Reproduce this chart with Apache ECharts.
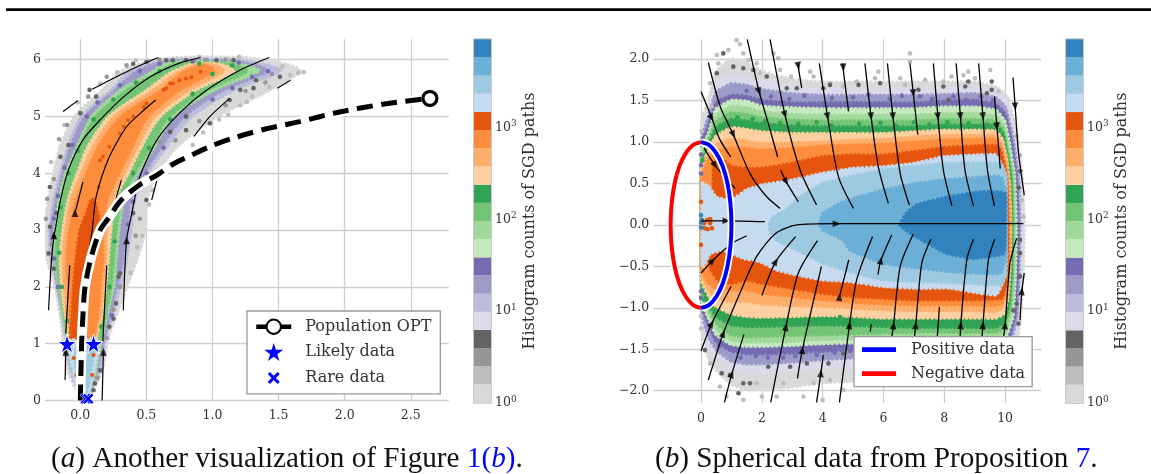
<!DOCTYPE html>
<html><head><meta charset="utf-8">
<style>html,body{margin:0;padding:0;background:#fff}#c{width:1151px;height:474px}</style>
<script src="https://cdn.jsdelivr.net/npm/echarts@6/dist/echarts.min.js"></script>
</head><body><div id="c"></div>
<script>
// ---------- shared palette / colourbar ----------
const cbEdges=[1,1.58,2.49,3.93,6.2,9.78,15.4,24.4,38.4,60.6,95.7,151,238,376,593,936,1477,2331,3678,5804,9160];
const cbColors=['#d9d9d9','#bdbdbd','#969696','#636363','#dadaeb','#bcbddc','#9e9ac8','#756bb1','#c7e9c0','#a1d99b','#74c476','#31a354','#fdd0a2','#fdae6b','#fd8d3c','#e6550d','#c6dbef','#9ecae1','#6baed6','#3182bd'];
const cbTicks=[1,10,100,1000];
const cbTickPowers=['0','1','2','3'];

// ---------- panel (a) ticks ----------
const aXTicks=[0,0.5,1,1.5,2,2.5];
const aXLabels=['0.0','0.5','1.0','1.5','2.0','2.5'];
const aYTicks=[0,1,2,3,4,5,6];
const aYLabels=['0','1','2','3','4','5','6'];

// ---------- panel (a) ribbon contours, read row by row ----------
const aRowL=[0.5,1.1,1.5,2,2.5,3,3.53,4,4.47,5,5.47,5.76,5.91];
const aRowR=[0.5,1.1,1.5,2,2.5,3,3.53,4,4.47,5,5.47,5.8];
const aGrayL=[-.09,-.13,-.15,-.19,-.25,-.27,-.24,-.20,-.15,-.04,.17,.29,.43];
const aGrayR=[.16,.21,.27,.35,.43,.49,.50,.58,.73,1.03,1.43,1.66];
const aGrayTop=[[.7,6.03],[1.25,6.03],[1.55,5.92]];
const aPurpleOutL=[-.07,-.11,-.14,-.17,-.22,-.23,-.20,-.15,-.09,.01,.24,.36,.50];
const aPurpleOutR=[.14,.19,.24,.30,.35,.38,.41,.51,.65,.84,1.16,1.51];
const aPurpleOutTop=[[.7,6.0],[1.2,5.99],[1.42,5.9]];
const aPurpleInL=[-.05,-.10,-.13,-.17,-.20,-.22,-.18,-.13,-.07,.04,.27,.41,.55];
const aPurpleInR=[.12,.18,.22,.27,.32,.35,.38,.48,.61,.78,1.08,1.41];
const aPurpleInTop=[[.72,5.98],[1.15,5.97],[1.35,5.88]];
const aGreenOutL=[-.05,-.10,-.13,-.16,-.19,-.19,-.16,-.11,-.02,.09,.31,.53,.63];
const aGreenOutR=[.11,.16,.20,.25,.27,.29,.33,.43,.56,.70,1.01,1.35];
const aGreenOutTop=[[.75,5.96],[1.1,5.95],[1.28,5.88]];
const aGreenDeepL=[-.05,-.09,-.12,-.15,-.18,-.17,-.14,-.08,0,.12,.36,.58,.70];
const aGreenDeepR=[.09,.15,.19,.23,.25,.27,.31,.41,.53,.67,.96,1.26];
const aGreenDeepTop=[[.8,5.95],[1.08,5.94],[1.2,5.87]];
const aOrangePaleL=[-.04,-.08,-.11,-.14,-.15,-.13,-.09,-.02,.06,.22,.51,.68,.83];
const aOrangePaleR=[.08,.12,.16,.19,.21,.23,.26,.36,.46,.60,.87,1.16];
const aOrangePaleTop=[[.88,5.93],[1.05,5.92]];
const aOrangeMidL=[-.04,-.07,-.10,-.12,-.13,-.11,-.07,.01,.10,.26,.56,.73,.88];
const aOrangeMidR=[.07,.11,.15,.17,.19,.20,.24,.33,.43,.56,.82,1.08];
const aOrangeMidTop=[[.93,5.91],[1.02,5.9]];
const aOrangeDeepL=[-.04,-.07,-.08,-.09,-.10,-.08,-.03,.05,.14,.31,.62,.77,.93];
const aOrangeDeepR=[.05,.10,.13,.15,.17,.17,.20,.29,.39,.51,.75,1.01];
const aOrangeDeepTop=[[.95,5.88],[.98,5.87]];
const aCore=[[-.07,1.12],[-.06,1.5],[-.05,2],[-.03,2.5],[0,3],[.05,3.3],[.09,3.55],[.12,3.4],[.15,3],[.1,2.5],[.06,2],[.02,1.5],[-.02,1.12]];
const aTipPale=[[-.08,1.05],[-.05,.5],[0,.1],[.05,.05],[.07,.2],[.1,.5],[.14,1.0],[.12,1.08],[0,1.05]];
const aTipBlue=[[-.03,.9],[-.02,.4],[.03,.1],[.06,.3],[.09,.7],[.1,.95]];

// ---------- panel (a) individual hex cells ----------
const aCellsLight=[[1.5,5.82],[1.59,5.73],[1.65,5.77],[1.69,5.78],[1.43,5.52],[1.3,5.35],[1.26,5.26],[1.21,5.2],[1.53,5.88],[.52,5.98],[.9,6.05],[1.2,6.05],[.42,5.99],[.28,5.78],[.15,5.58],[-.02,5.25],[-.12,4.85],[-.22,4.2],[-.28,3.4],[.52,3.45],[.55,3.7],[.47,2.9],[.43,2.7],[.38,2.25],[1.05,4.95],[1.12,5.03],[.93,4.72],[.85,4.5]];
const aCellsMid=[[-.16,4.6],[-.1,4.85],[-.25,3.55],[-.26,3.2],[-.22,2.75],[.06,5.35],[.2,5.7],[.35,5.9],[.6,4.55],[.72,4.58],[.9,4.92],[1.1,5.2],[1.25,5.45],[1.4,5.6],[.45,3.2],[.42,2.9],[.3,2],[.25,1.6],[.2,1.1],[.13,.4],[.6,6],[.95,6],[1.1,6],[1.45,5.75],[-.2,3.9]];
const aCellsDark=[[-.09,4.5],[0,5.06],[-.15,4.29],[-.23,3.76],[.07,5.47],[.12,5.35],[.68,4.73],[.8,4.76],[.98,4.88],[1.21,5.47],[1.31,5.5],[1.33,5.64],[1.13,5.29],[.8,5],[-.18,3.3],[-.23,3.06],[.5,3.53],[.4,3.3],[.3,2.24],[.29,2.18],[.27,1.71],[.25,1.44],[.22,1.3],[.11,.3],[.1,.18],[.15,.53],[-.2,2.88],[-.24,2.59],[-.2,2.32],[.4,5.93],[.5,5.96],[.65,5.99],[.7,5.99],[.8,5.99],[1.03,5.99],[1.16,5.99],[1.51,5.7]];
const aCellsPurple=[[-.17,2],[-.2,2.5],[-.2,3.2],[-.17,3.6],[-.12,4.1],[-.06,4.5],[.05,5],[.13,5.25],[.3,5.55],[.45,5.8],[.6,5.93],[.3,2],[.36,3.1],[.4,3.5],[.5,4],[.63,4.45],[.8,5],[1,5.3],[1.15,5.5],[1.3,5.7],[1.42,5.8],[.24,1.5],[.85,5.97],[1.2,5.95]];
const aCellsGreen=[[-.15,3.4],[-.09,4],[-.02,4.4],[.1,4.95],[.25,5.3],[.42,5.6],[.6,5.8],[.9,5.93],[1.15,5.9],[1,5.75],[.85,5.4],[.68,4.95],[.52,4.45],[.4,4],[.3,3.5],[.26,2.8],[.22,2],[-.16,2.6],[-.14,2],[-.1,1.4],[.16,1.3]];
const aCellsHot=[[.07,3.12],[.11,3.41],[.14,3.76],[.15,4.23],[.22,4.47],[.33,4.82],[.36,4.94],[.48,5.17],[.63,5.47],[.68,5.58],[.8,5.67],[.91,5.79],[.17,4.29],[.3,4.7],[.65,5.5],[.75,5.64],[.84,5.69],[.7,5.58],[.5,5.23],[.4,5],[.1,3.3],[.05,3.18],[-.05,.75],[-.03,.45],[.1,.8],[.09,.45]];

// ---------- panel (a) lines ----------
const aPathOpt=[[.0,0],[.005,.5],[.01,1],[.02,1.5],[.036,2],[.08,2.5],[.15,3],[.21,3.2],[.31,3.53],[.45,3.8],[.58,3.97],[.7,4.16],[.85,4.33],[1,4.49],[1.156,4.62],[1.4,4.78],[1.66,4.91],[1.96,5.08],[2.3,5.22],[2.645,5.32]];
const aLikely=[[-.1,1],[.1,1]];
const aRare=[[.04,.03],[.06,.03]];
const aStreams=[
 [[-.13,5.09],[-.02,5.28]],
 [[.09,5.48],[.3,5.73],[.45,5.9],[.59,6.04]],
 [[-.24,1.59],[-.22,2.41],[-.2,2.88],[-.19,3],[-.15,3.53],[-.09,4.06],[.02,4.59],[.15,4.94],[.33,5.35],[.53,5.7],[.75,5.94],[.91,6.04]],
 [[.06,2.53],[.09,3],[.12,3.59],[.22,4.29],[.35,4.82],[.48,5.11],[.57,5.29]],
 [[-.04,3.3],[.02,3.85]],
 [[.325,1.59],[.35,2.82],[.39,3.3],[.45,3.94],[.58,4.59],[.75,5.06],[.96,5.47],[1.21,5.82],[1.43,6.04]],
 [[.86,4.65],[.98,5],[1.13,5.32]],
 [[1.49,5.5],[1.59,5.64]],
 [[.54,3.53],[.58,3.88]],
 [[.26,3.47],[.31,3.88]],
 [[-.11,1.18],[-.08,2.38]],
 [[.17,1.03],[.2,2.38]],
 [[-.115,.36],[-.11,.86]],
 [[.165,0],[.175,.86]]
];
const aArrows=[[-.2,2.91,0],[.35,2.82,0],[-.04,3.3,0],[-.11,.86,0],[.175,.86,0]];

// ---------- panel (b) ticks ----------
const bXTicks=[0,2,4,6,8,10];
const bXLabels=['0','2','4','6','8','10'];
const bYTicks=[-2,-1.5,-1,-.5,0,.5,1,1.5,2];
const bYLabels=['\u22122.0','\u22121.5','\u22121.0','\u22120.5','0.0','0.5','1.0','1.5','2.0'];

// ---------- panel (b) band contours at fixed x stations ----------
const bStations=[.25,.5,1,1.5,2,3,4,5,6,7,8,9,9.7];
const bGrayTop=[1.5,1.85,2.0,1.95,1.85,1.75,1.72,1.72,1.72,1.72,1.72,1.72,1.66];
const bGrayBot=[-1.6,-1.75,-1.92,-1.98,-1.98,-1.95,-1.9,-1.88,-1.85,-1.85,-1.85,-1.85,-1.8];
const bGrayRight=[[10.05,1.55],[10.35,1.15],[10.55,.6],[10.62,0],[10.58,-.6],[10.5,-1.1],[10.3,-1.6]];
const bLav1Top=[1.4,1.72,1.8,1.78,1.74,1.66,1.64,1.64,1.64,1.64,1.65,1.66,1.6];
const bLav1Bot=[-1.45,-1.6,-1.75,-1.78,-1.78,-1.76,-1.72,-1.7,-1.7,-1.7,-1.7,-1.7,-1.65];
const bLav1Right=[[10.05,1.5],[10.3,1.1],[10.5,.6],[10.55,0],[10.52,-.6],[10.45,-1.1],[10.2,-1.55]];
const bLav2Top=[1.3,1.6,1.7,1.68,1.63,1.58,1.56,1.56,1.56,1.56,1.57,1.58,1.53];
const bLav2Bot=[-1.35,-1.5,-1.64,-1.67,-1.67,-1.65,-1.62,-1.6,-1.6,-1.6,-1.6,-1.6,-1.57];
const bLav2Right=[[10,1.42],[10.25,1.05],[10.42,.6],[10.48,0],[10.45,-.6],[10.38,-1.1],[10.1,-1.5]];
const bLav3Top=[1.2,1.47,1.56,1.55,1.5,1.47,1.47,1.47,1.47,1.47,1.49,1.5,1.45];
const bLav3Bot=[-1.2,-1.4,-1.52,-1.55,-1.55,-1.54,-1.52,-1.5,-1.5,-1.5,-1.5,-1.5,-1.48];
const bLav3Right=[[10,1.33],[10.2,1],[10.36,.6],[10.42,0],[10.4,-.6],[10.32,-1.1],[10.05,-1.42]];
const bGr1Top=[1.1,1.4,1.5,1.49,1.43,1.41,1.4,1.4,1.4,1.4,1.42,1.42,1.38];
const bGr1Bot=[-1.12,-1.32,-1.44,-1.46,-1.46,-1.45,-1.43,-1.42,-1.42,-1.42,-1.42,-1.42,-1.4];
const bGr1Right=[[9.98,1.25],[10.15,.95],[10.3,.6],[10.36,0],[10.33,-.6],[10.25,-1.1],[10.02,-1.35]];
const bGr2Top=[1.05,1.32,1.43,1.41,1.36,1.33,1.32,1.32,1.32,1.32,1.34,1.34,1.31];
const bGr2Bot=[-1.05,-1.25,-1.39,-1.41,-1.41,-1.4,-1.38,-1.37,-1.37,-1.37,-1.37,-1.37,-1.35];
const bGr2Right=[[9.95,1.2],[10.12,.9],[10.26,.6],[10.31,0],[10.28,-.6],[10.2,-1.05],[10,-1.3]];
const bGr3Top=[1.0,1.24,1.35,1.33,1.29,1.26,1.25,1.25,1.25,1.25,1.27,1.27,1.25];
const bGr3Bot=[-1.0,-1.18,-1.32,-1.35,-1.34,-1.33,-1.32,-1.31,-1.3,-1.29,-1.29,-1.29,-1.29];
const bGr3Right=[[9.93,1.15],[10.1,.85],[10.22,.6],[10.26,0],[10.24,-.6],[10.16,-1],[9.98,-1.24]];
const bGr4Top=[.95,1.17,1.27,1.25,1.22,1.19,1.18,1.18,1.18,1.18,1.2,1.2,1.2];
const bGr4Bot=[-.95,-1.1,-1.2,-1.22,-1.22,-1.21,-1.2,-1.21,-1.22,-1.23,-1.23,-1.23,-1.23];
const bGr4Right=[[9.92,1.1],[10.08,.8],[10.18,.55],[10.22,0],[10.2,-.55],[10.12,-.95],[9.97,-1.17]];
const bOr1Top=[.9,1.07,1.17,1.15,1.12,1.1,1.1,1.1,1.1,1.12,1.14,1.14,1.13];
const bOr1Bot=[-.85,-.98,-1.07,-1.1,-1.11,-1.1,-1.09,-1.1,-1.12,-1.12,-1.12,-1.12,-1.12];
const bOr1Right=[[9.9,1.03],[10.05,.78],[10.14,.5],[10.18,0],[10.16,-.5],[10.08,-.9],[9.95,-1.07]];
const bOr2Top=[.85,.97,1.03,1.01,.98,.99,1,1.02,1.03,1.06,1.08,1.08,1.08];
const bOr2Bot=[-.78,-.88,-.92,-.92,-.95,-.97,-.98,-1,-1.02,-1.03,-1.03,-1.03,-1.04];
const bOr2Right=[[9.88,.98],[10.03,.75],[10.11,.5],[10.15,0],[10.13,-.5],[10.05,-.85],[9.92,-.99]];
const bOr3Top=[.8,.88,.93,.92,.9,.92,.95,.96,.97,1,1.02,1.03,1.03];
const bOr3Bot=[-.7,-.76,-.78,-.78,-.82,-.86,-.9,-.93,-.95,-.96,-.96,-.96,-.97];
const bOr3Right=[[9.86,.95],[10.01,.72],[10.08,.5],[10.12,0],[10.1,-.5],[10.03,-.8],[9.9,-.93]];
const bLeftY=[1.25,1.1,1.05,1,.92,.86,.8,.74,.68,.62,.56];
const bOr4=[[.4,.4],[.42,.7],[.7,.78],[1,.7],[1.5,.68],[2,.68],[3,.74],[4,.82],[5,.84],[6,.84],[7,.88],[8,.93],[9,.95],[9.7,.95],[9.84,.9],[9.98,.7],[10.05,.5],[10.08,0],[10.07,-.5],[10,-.75],[9.88,-.88],[9,-.9],[8,-.9],[7,-.9],[6,-.88],[5,-.86],[4,-.82],[3,-.76],[2,-.7],[1.5,-.66],[1,-.7],[.6,-.68],[.35,-.55],[.25,-.35]];
const bBlue1=[[.05,.5],[.25,.46],[.5,.33],[1,.3],[1.5,.42],[2,.48],[3,.54],[4,.62],[5,.68],[6,.7],[7,.74],[8,.82],[9,.84],[9.7,.84],[10,.6],[10.03,0],[10,-.6],[9.7,-.84],[8.2,-.76],[7.1,-.76],[6,-.74],[4.9,-.68],[4,-.66],[3.15,-.6],[2.49,-.54],[1.94,-.44],[1.39,-.4],[.73,-.3],[.3,-.34],[.05,-.5]];
const bBlue2=[[2.27,.02],[2.38,.1],[2.82,.18],[3.26,.34],[4.02,.5],[4.9,.58],[6,.66],[8,.74],[9.84,.74],[10.02,.6],[10.03,0],[10.02,-.6],[9.84,-.72],[8.74,-.7],[6,-.66],[4.9,-.56],[4.02,-.46],[3.15,-.3],[2.49,-.18],[2.27,-.06]];
const bBlue3=[[4.02,.14],[4.57,.26],[5.23,.34],[6,.42],[7.1,.5],[8,.54],[9.84,.58],[10,.4],[10.02,0],[10,-.4],[9.84,-.58],[8.18,-.56],[6,-.46],[4.9,-.3],[4.68,-.18],[4.02,-.06],[3.9,0]];
const bBlue4=[[6.76,.14],[7.1,.24],[8.18,.34],[9.29,.4],[9.99,.38],[10,0],[9.95,-.34],[8.96,-.4],[8.08,-.34],[6.98,-.12],[6.55,0]];

// ---------- panel (b) individual hex cells ----------
const bCellsLight=[[1.17,2.23],[1.28,2.18],[.9,2.11],[.52,2.05],[.57,1.95],[1.39,2.07],[1.56,1.99],[1.83,1.95],[2.38,2.07],[2.54,2.01],[2.6,1.87],[1.94,1.83],[3.59,1.85],[2.96,1.79],[3.7,1.79],[4.25,1.71],[4.68,1.67],[.3,1.71],[.02,1.13],[.35,1.43],[6.87,2.07],[6.87,1.97],[5.12,1.73],[5.72,1.77],[5.83,1.85],[6.55,1.77],[6.71,1.69],[7.37,1.75],[7.97,1.73],[8.24,1.79],[8.63,1.81],[8.79,1.85],[9.01,1.77],[9.51,1.87],[9.78,1.61],[10.49,.84],[10.38,1.07],[10.6,.1],[10.55,.3],[.3,-1.67],[.62,-1.95],[.84,-2.07],[1.39,-2.11],[2,-2.07],[2.49,-2.07],[2.71,-1.91],[3.37,-2.07],[4,-2.11],[4.68,-1.99],[3.7,-1.91],[1.83,-1.91],[4.24,-1.87],[0,-1.1],[0,-1.25]];
const bCellsDark=[[.73,2.07],[1.39,1.89],[1.06,1.91],[.52,1.83],[2.16,1.79],[2.82,1.65],[3.15,1.65],[4.02,1.65],[4.24,1.69],[1.72,1.87],[5.18,1.69],[5.89,1.71],[7.15,1.63],[7.97,1.67],[8.69,1.67],[9.4,1.59],[9.56,1.63],[8.14,1.51],[8.79,1.73],[9.56,1.73],[.13,-1.51],[.95,-1.81],[1.61,-1.91],[2.21,-1.71],[2.93,-1.71],[3.48,-1.67],[4.19,-1.67],[4.68,-1.55],[.68,-1.79],[1.23,-2.03],[1.39,-1.91],[10.49,-.18],[10.49,-.34],[10.49,-.62],[10.44,-1.19],[10.27,-1.03],[10.38,-.95],[10.5,.65],[10.45,.45]];
const bCellsPurple=[[1.5,1.62],[2.3,1.55],[2.9,1.52],[3.4,1.56],[4.3,1.53],[5,1.54],[5.5,1.57],[6.2,1.52],[6.6,1.56],[7.2,1.55],[7.6,1.52],[8.3,1.55],[8.7,1.51],[9.2,1.55],[9.6,1.5],[.6,-1.46],[1.3,-1.6],[2.2,-1.6],[3.1,-1.58],[3.8,-1.57],[4.4,-1.54],[4.9,-1.52],[1.8,-1.58],[2.7,-1.6],[0,.72],[0,.62],[0,-.8],[0,-.88],[0,.85]];
const bCellsGreen=[[1.2,1.3],[1.7,1.28],[2.1,1.25],[2.6,1.23],[3.2,1.22],[3.8,1.24],[4.3,1.2],[5.2,1.22],[5.9,1.23],[6.4,1.2],[7,1.24],[7.5,1.21],[8.1,1.24],[8.8,1.23],[9.4,1.21],[2.05,-1.15],[2.93,-1.17],[3.59,-1.15],[4.57,-1.11],[5.4,-1.16],[6,-1.18],[7.2,-1.17],[8.5,-1.18],[.05,.78],[.1,-.9]];
const bCellsHot=[[.1,.02],[.2,.06],[.3,.02],[.36,-.04],[.22,-.05],[.12,-.04],[.3,.07],[0,-.24],[0,.28]];
const bCellsBlue=[[0,.03],[.03,.06],[0,-.03],[0,.12]];
const bLineUnit=[[0,1],[.26,.966],[.5,.866],[.71,.71],[.87,.5],[.966,.26],[1,0],[.966,-.26],[.87,-.5],[.71,-.71],[.5,-.866],[.26,-.966],[0,-1]];
const bLineNeg=[[0,1],[-.26,.966],[-.5,.866],[-.71,.71],[-.87,.5],[-.966,.26],[-1,0],[-.966,-.26],[-.87,-.5],[-.71,-.71],[-.5,-.866],[-.26,-.966],[0,-1]];
const bStreams=[
 [[0,1.61],[.35,1.29],[.62,1.03],[.98,.82]],
 [[.24,1.96],[.63,1.43],[1.06,1.09],[1.61,.62],[2.16,.34],[2.6,.2]],
 [[1.52,2.24],[1.91,1.61],[2.27,1.15],[2.52,.82]],
 [[2.27,2.24],[2.76,1.33],[3.26,.66],[3.8,.24]],
 [[3.18,1.95],[3.31,1.65]],
 [[3.89,1.95],[4.16,1.31],[4.52,.58],[5.01,.2]],
 [[4.65,1.95],[4.85,1.37]],
 [[.1,.93],[.46,.72],[1.12,.44]],
 [[2.62,.66],[2.8,.52],[3.2,.28]],
 [[5.39,1.95],[5.59,1.31],[5.83,.7],[6.16,.26]],
 [[6.13,1.95],[6.31,1.31],[6.55,.62],[6.85,.24]],
 [[6.87,1.95],[6.98,1.59],[7.13,1.09]],
 [[7.64,1.95],[7.79,1.31],[7.97,.66],[8.25,.23]],
 [[8.39,1.95],[8.53,1.31],[8.68,.66],[8.96,.23]],
 [[9.13,1.95],[9.27,1.31],[9.42,.66],[9.65,.23]],
 [[9.65,1.55],[9.73,1.19],[9.84,.68]],
 [[10.26,1.78],[10.33,1.43],[10.44,.87],[10.63,.36]],
 [[0,.05],[.84,.05],[2.1,.04]],
 [[.24,-1.87],[.73,-1.31],[1.28,-.82],[1.83,-.38],[2.46,-.1],[3.15,0],[4.46,.015],[7,.015],[10.6,.015]],
 [[0,-1.52],[.35,-1.19],[.99,-.74]],
 [[.77,-2.14],[1.01,-1.8],[1.41,-1.32]],
 [[2,-.85],[2.46,-.44],[3.11,-.14]],
 [[2.29,-2.14],[2.79,-1.23],[3.2,-.58],[3.83,-.19]],
 [[3.17,-1.85],[3.33,-1.51],[3.96,-.5]],
 [[3.8,-2.14],[3.94,-1.79],[4.02,-1.57]],
 [[4.55,-2.14],[4.88,-1.21],[5.12,-.66],[5.64,-.14]],
 [[4.55,-.87],[4.86,-.42]],
 [[5.56,-1.29],[5.6,-1.2]],
 [[5.82,-.6],[5.91,-.43],[6.27,-.12]],
 [[6.27,-1.35],[6.33,-1.21],[6.55,-.5],[6.98,-.11]],
 [[7.02,-1.35],[7.06,-1.21],[7.26,-.46],[7.56,-.17]],
 [[7.77,-1.35],[7.84,-.99]],
 [[8.52,-1.35],[8.54,-1.21],[8.74,-.42],[8.96,-.17]],
 [[9.24,-1.35],[9.27,-1.21],[9.45,-.42],[9.66,-.17]],
 [[9.95,-1.35],[10,-1.21],[10.16,-.46],[10.38,-.16]],
 [[10.49,-1.15],[10.55,-.8],[10.63,-.58]],
 [[0,-.58],[.38,-.43],[.79,-.29],[1.12,-.2],[1.5,-.13]]
];
const bArrows=[[.35,1.29,210],[1.06,1.09,205],[1.91,1.61,200],[2.76,1.33,195],[3.2,1.92,190],[4.16,1.31,190],[4.68,1.9,185],[.46,.72,215],[2.8,.52,210],[5.59,1.31,185],[6.31,1.31,185],[6.98,1.59,185],[7.79,1.31,185],[8.53,1.31,185],[9.27,1.31,185],[9.73,1.19,185],[10.33,1.43,185],[.84,.05,-90],[4.46,.015,-90],[.35,-1.19,-30],[.73,-1.31,-20],[1.01,-1.8,-20],[2.46,-.44,-30],[2.79,-1.23,-10],[3.33,-1.51,-5],[3.94,-1.79,-5],[4.88,-1.21,-5],[4.55,-.87,-5],[5.91,-.43,-10],[6.33,-1.21,-5],[7.06,-1.21,-5],[8.54,-1.21,-5],[9.27,-1.21,-5],[10,-1.21,-5],[10.55,-.8,-5],[.38,-.43,-45]];

// ---------- assembling ribbons from the arrays above ----------
function ribbon(left,right,top){
  const p=[[.03,.03]];
  left.forEach((x,i)=>p.push([x,aRowL[i]]));
  top.forEach(t=>p.push(t));
  for(let i=right.length-1;i>=0;i--)p.push([right[i],aRowR[i]]);
  return p;
}
const aBands=[
 {c:'#d9d9d9',p:ribbon(aGrayL,aGrayR,aGrayTop)},
 {c:'#bcbddc',p:ribbon(aPurpleOutL,aPurpleOutR,aPurpleOutTop)},
 {c:'#9e9ac8',p:ribbon(aPurpleInL,aPurpleInR,aPurpleInTop)},
 {c:'#a1d99b',p:ribbon(aGreenOutL,aGreenOutR,aGreenOutTop)},
 {c:'#74c476',p:ribbon(aGreenDeepL,aGreenDeepR,aGreenDeepTop)},
 {c:'#fdd0a2',p:ribbon(aOrangePaleL,aOrangePaleR,aOrangePaleTop)},
 {c:'#fdae6b',p:ribbon(aOrangeMidL,aOrangeMidR,aOrangeMidTop)},
 {c:'#fd8d3c',p:ribbon(aOrangeDeepL,aOrangeDeepR,aOrangeDeepTop)},
 {c:'#e6550d',p:aCore},
 {c:'#c6dbef',p:aTipPale},
 {c:'#9ecae1',p:aTipBlue}
];
function band(top,bot,right,ly){
  const p=[[.03,ly]];
  bStations.forEach((x,i)=>p.push([x,top[i]]));
  right.forEach(r=>p.push(r));
  for(let i=bStations.length-1;i>=0;i--)p.push([bStations[i],bot[i]]);
  p.push([.03,-ly]);
  return p;
}
const bBands=[
 {c:'#d9d9d9',p:band(bGrayTop,bGrayBot,bGrayRight,bLeftY[0])},
 {c:'#dadaeb',p:band(bLav1Top,bLav1Bot,bLav1Right,bLeftY[1])},
 {c:'#9e9ac8',p:band(bLav2Top,bLav2Bot,bLav2Right,bLeftY[2])},
 {c:'#756bb1',p:band(bLav3Top,bLav3Bot,bLav3Right,bLeftY[3])},
 {c:'#c7e9c0',p:band(bGr1Top,bGr1Bot,bGr1Right,bLeftY[4])},
 {c:'#a1d99b',p:band(bGr2Top,bGr2Bot,bGr2Right,bLeftY[5])},
 {c:'#74c476',p:band(bGr3Top,bGr3Bot,bGr3Right,bLeftY[6])},
 {c:'#31a354',p:band(bGr4Top,bGr4Bot,bGr4Right,bLeftY[7])},
 {c:'#fdd0a2',p:band(bOr1Top,bOr1Bot,bOr1Right,bLeftY[8])},
 {c:'#fdae6b',p:band(bOr2Top,bOr2Bot,bOr2Right,bLeftY[9])},
 {c:'#fd8d3c',p:band(bOr3Top,bOr3Bot,bOr3Right,bLeftY[10])},
 {c:'#e6550d',p:bOr4},
 {c:'#c6dbef',p:bBlue1},
 {c:'#9ecae1',p:bBlue2},
 {c:'#6baed6',p:bBlue3},
 {c:'#3182bd',p:bBlue4}
];

// ---------- styles ----------
const TXT='#333333', GRID='#cfcfcf', SLAB='"DejaVu Serif"', CAP='"Liberation Serif"';
const STAR='path://M50,0 L61,35 L98,35 L68,57 L79,91 L50,70 L21,91 L32,57 L2,35 L39,35 Z';
const CROSS='path://M18,0 L50,32 L82,0 L100,18 L68,50 L100,82 L82,100 L50,68 L18,100 L0,82 L32,50 L0,18 Z';
const CROSS_PAD='path://M-25,-25 L-25,-25 Z M125,125 L125,125 Z M18,0 L50,32 L82,0 L100,18 L68,50 L100,82 L82,100 L50,68 L18,100 L0,82 L32,50 L0,18 Z';
const HANDLE='path://M0,0 L100,0 L100,14 L0,14 Z';

function bandSeries(bands,ax,smooth){
  return {type:'custom',xAxisIndex:ax,yAxisIndex:ax,silent:true,clip:true,z:2,
    data:bands.map((b,i)=>[i]),
    renderItem:(params,api)=>{
      const b=bands[params.dataIndex];
      return {type:'polygon',shape:{points:b.p.map(q=>api.coord(q)),smooth:smooth},
        style:{fill:b.c,stroke:b.c,lineWidth:4,lineDash:[0.1,4.2],lineCap:'round'}};
    }};
}
function cells(data,color,ax,size){
  return {type:'scatter',xAxisIndex:ax,yAxisIndex:ax,silent:true,z:3,symbol:'circle',symbolSize:size||4.6,
    data:data,itemStyle:{color:color,opacity:1}};
}
function streams(list,ax,w){
  return list.map(d=>({type:'line',xAxisIndex:ax,yAxisIndex:ax,silent:true,z:4,data:d,smooth:.25,showSymbol:false,symbol:'none',
    lineStyle:{color:'#000',width:w}}));
}
function arrows(list,ax){
  return {type:'scatter',xAxisIndex:ax,yAxisIndex:ax,silent:true,z:5,symbol:'triangle',symbolSize:[6.5,8],
    symbolRotate:v=>v[2],data:list,itemStyle:{color:'#000'}};
}
function colorbarSeries(ax){
  return {type:'custom',xAxisIndex:ax,yAxisIndex:ax,silent:true,z:3,
    data:cbColors.map((c,i)=>[i]),
    renderItem:(params,api)=>{
      const i=params.dataIndex;
      const p0=api.coord([0,cbEdges[i]]),p1=api.coord([1,cbEdges[i+1]]);
      return {type:'rect',shape:{x:p0[0],y:p1[1],width:p1[0]-p0[0],height:p0[1]-p1[1]},style:{fill:cbColors[i]}};
    }};
}
function valueAxisX(ax,min,max,ticks,labels,gridIndex){
  return {type:'value',gridIndex:gridIndex,min:min,max:max,position:'bottom',
    axisLine:{show:false},axisTick:{show:false,customValues:ticks},
    splitLine:{show:true,showMinLine:true,showMaxLine:true,lineStyle:{color:GRID,width:1.3}},
    axisLabel:{customValues:ticks,color:TXT,fontFamily:SLAB,fontSize:12.5,margin:9,showMinLabel:true,showMaxLabel:true,
      formatter:v=>{const i=ticks.findIndex(t=>Math.abs(t-v)<1e-6);return i<0?'':labels[i];}}};
}
function valueAxisY(min,max,ticks,labels,gridIndex){
  return {type:'value',gridIndex:gridIndex,min:min,max:max,
    axisLine:{show:false},axisTick:{show:false,customValues:ticks},
    splitLine:{show:true,showMinLine:true,showMaxLine:true,lineStyle:{color:GRID,width:1.3}},
    axisLabel:{customValues:ticks,color:TXT,fontFamily:SLAB,fontSize:12.5,margin:4,
      formatter:v=>{const i=ticks.findIndex(t=>Math.abs(t-v)<1e-6);return i<0?'':labels[i];}}};
}
function cbAxisY(gridIndex){
  return {type:'log',logBase:10,gridIndex:gridIndex,min:1,max:9160,position:'right',
    name:'Histogram counts of SGD paths',nameLocation:'middle',nameRotate:90,nameGap:31,
    nameTextStyle:{color:TXT,fontFamily:SLAB,fontSize:16},
    axisLine:{show:false},axisTick:{show:false,customValues:cbTicks},splitLine:{show:false},
    axisLabel:{customValues:cbTicks,margin:4,color:TXT,
      formatter:v=>{const i=cbTicks.findIndex(t=>Math.abs(t-v)<1e-6);return i<0?'':'{b|10}{s|'+cbTickPowers[i]+'}';},
      rich:{b:{fontFamily:SLAB,fontSize:12.5,color:TXT},s:{fontFamily:SLAB,fontSize:9,color:TXT,padding:[0,0,7,0]}}}};
}
const CAPSIZE=29.2;
const capRich=c=>({fontFamily:CAP,fontSize:CAPSIZE,color:c,fontWeight:'normal'});
const capRichI=c=>({fontFamily:CAP,fontSize:CAPSIZE,color:c,fontWeight:'normal',fontStyle:'italic'});
const capStyle={fontWeight:'normal',rich:{n:capRich('#111'),i:capRichI('#111'),l:capRich('#0000ff'),li:capRichI('#0000ff')}};

const option={
  animation:false,backgroundColor:'#fff',
  graphic:[{type:'rect',shape:{x:6,y:8.2,width:1145,height:2.8},style:{fill:'#000'},silent:true}],
  title:[
    {left:51,top:445,padding:0,text:'{n|(}{i|a}{n|) Another visualization of Figure }{l|1(}{li|b}{l|)}{n|.}',textStyle:capStyle},
    {left:655,top:445,padding:0,text:'{n|(}{i|b}{n|) Spherical data from Proposition }{l|7}{n|.}',textStyle:capStyle}
  ],
  grid:[
    {left:45,top:39.3,width:403.7,height:361.2},
    {left:653.3,top:39.3,width:388,height:363.7},
    {left:474,top:39.3,width:17,height:363.4,show:true,borderColor:'#cccccc',borderWidth:2,backgroundColor:'transparent'},
    {left:1066,top:39.3,width:17,height:363.7,show:true,borderColor:'#cccccc',borderWidth:2,backgroundColor:'transparent'}
  ],
  xAxis:[
    valueAxisX(0,-.267,2.787,aXTicks,aXLabels,0),
    valueAxisX(1,-1.57,11.19,bXTicks,bXLabels,1),
    {type:'value',gridIndex:2,min:0,max:1,show:false},
    {type:'value',gridIndex:3,min:0,max:1,show:false}
  ],
  yAxis:[
    valueAxisY(0,6.36,aYTicks,aYLabels,0),
    valueAxisY(-2.148,2.24,bYTicks,bYLabels,1),
    cbAxisY(2),cbAxisY(3)
  ],
  legend:[
    {left:247,top:311,orient:'vertical',align:'left',padding:[7.5,9,7,7],itemWidth:35,itemHeight:18,itemGap:8,
     backgroundColor:'#fff',borderColor:'#999999',borderWidth:1.3,selectedMode:false,z:20,symbolKeepAspect:true,
     textStyle:{color:TXT,fontFamily:SLAB,fontSize:16,padding:[0,0,0,9]},
     data:[{name:'Population OPT',lineStyle:{type:'solid',width:4.5,color:'#000'}},
           {name:'Likely data',icon:STAR,itemStyle:{borderWidth:0}},{name:'Rare data',icon:CROSS_PAD,itemStyle:{borderWidth:0}}]},
    {left:854,top:336.7,orient:'vertical',align:'left',padding:[5,7,5,8],itemWidth:34,itemHeight:18,itemGap:8,
     backgroundColor:'#fff',borderColor:'#999999',borderWidth:1.3,selectedMode:false,z:20,symbolKeepAspect:true,
     textStyle:{color:TXT,fontFamily:SLAB,fontSize:16,padding:[0,0,0,10]},
     data:[{name:'Positive data',icon:HANDLE},{name:'Negative data',icon:HANDLE}]}
  ],
  series:[
    bandSeries(aBands,0,.25),
    cells(aCellsPurple,'#756bb1',0),cells(aCellsGreen,'#31a354',0),cells(aCellsLight,'#bdbdbd',0),cells(aCellsMid,'#969696',0),cells(aCellsDark,'#636363',0),cells(aCellsHot,'#e6550d',0,4),
    ...streams(aStreams,0,1.2),
    arrows(aArrows,0),
    {type:'line',xAxisIndex:0,yAxisIndex:0,silent:true,z:6,data:aPathOpt,smooth:.3,showSymbol:false,symbol:'none',lineStyle:{color:'#fff',width:10}},
    {type:'line',name:'Population OPT',xAxisIndex:0,yAxisIndex:0,silent:true,z:7,smooth:.3,
     data:aPathOpt.map((d,i)=>i===aPathOpt.length-1?{value:d}:{value:d,symbol:'none'}),
     symbol:'circle',symbolSize:14,showSymbol:true,showAllSymbol:true,
     lineStyle:{color:'#000',width:5,type:[16,8.5]},itemStyle:{color:'#fff',borderColor:'#000',borderWidth:3.2}},
    {type:'scatter',name:'Likely data',xAxisIndex:0,yAxisIndex:0,silent:true,z:8,clip:false,symbol:STAR,symbolSize:19,data:aLikely,itemStyle:{color:'#0000ff',borderColor:'#fff',borderWidth:1,opacity:1}},
    {type:'scatter',name:'Rare data',xAxisIndex:0,yAxisIndex:0,silent:true,z:8,clip:false,symbol:CROSS,symbolSize:11,data:aRare,itemStyle:{color:'#0000ff',borderColor:'#fff',borderWidth:.6,opacity:1}},

    bandSeries(bBands,1,.12),
    cells(bCellsPurple,'#756bb1',1),cells(bCellsGreen,'#31a354',1),cells(bCellsLight,'#bdbdbd',1),cells(bCellsDark,'#636363',1),cells(bCellsHot,'#e6550d',1),cells(bCellsBlue,'#3182bd',1),
    ...streams(bStreams,1,1.3),
    arrows(bArrows,1),
    {type:'line',xAxisIndex:1,yAxisIndex:1,silent:true,z:6,data:bLineUnit,smooth:.3,showSymbol:false,symbol:'none',lineStyle:{color:'#fff',width:7.5}},
    {type:'line',xAxisIndex:1,yAxisIndex:1,silent:true,z:6,data:bLineNeg,smooth:.3,showSymbol:false,symbol:'none',lineStyle:{color:'#fff',width:7.5}},
    {type:'line',name:'Negative data',xAxisIndex:1,yAxisIndex:1,silent:true,z:7,data:bLineNeg,smooth:.3,showSymbol:false,symbol:'none',lineStyle:{color:'#ff0000',width:4},itemStyle:{color:'#ff0000'}},
    {type:'line',name:'Positive data',xAxisIndex:1,yAxisIndex:1,silent:true,z:7,data:bLineUnit,smooth:.3,showSymbol:false,symbol:'none',lineStyle:{color:'#0000ff',width:4},itemStyle:{color:'#0000ff'}},

    colorbarSeries(2),colorbarSeries(3)
  ]
};
const chart=echarts.init(document.getElementById('c'),null,{renderer:'canvas'});
chart.setOption(option);
</script></body></html>
